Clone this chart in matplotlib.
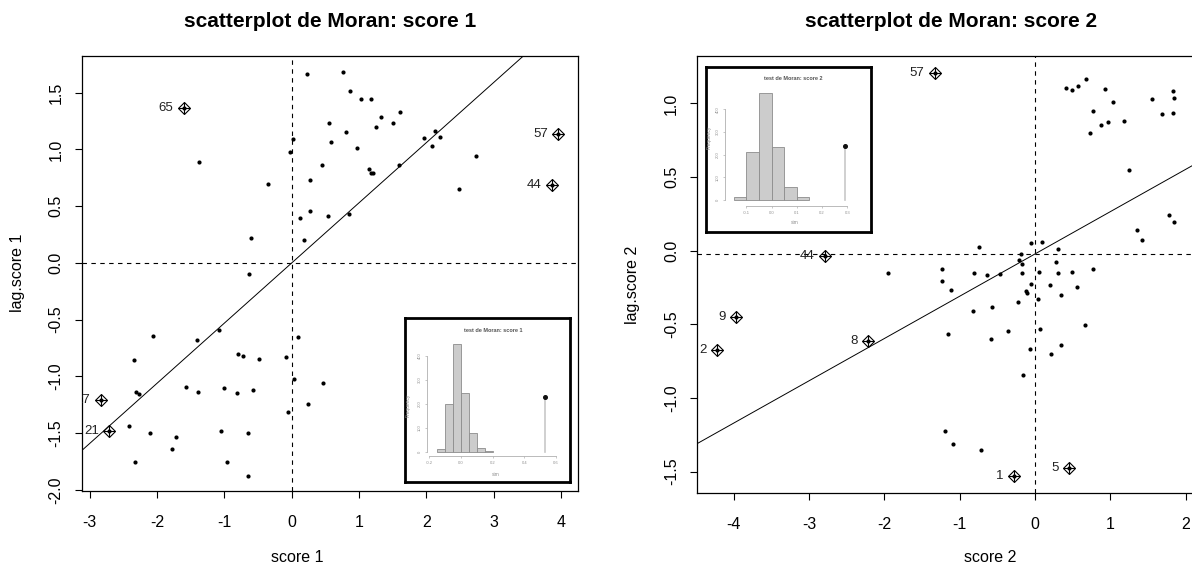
import numpy as np
import matplotlib
matplotlib.use("Agg")
import matplotlib.pyplot as plt

plt.rcParams['font.family'] = ['Liberation Sans', 'DejaVu Sans']
plt.rcParams['axes.unicode_minus'] = False

# ---------------- data: score 1 ----------------
s1_x = [-1.60, -1.38, -0.35, -0.60, -0.63, -0.025, 0.024, 0.232, 0.762, 0.871,
        1.025, 1.183, 1.605, 1.327, 1.50, 1.248, 0.559, 0.812, 0.589, 0.966,
        1.966, 2.125, 2.204, 2.09, 2.734, 0.446, 1.149, 1.174, 1.203, 1.594,
        0.277, 2.486, 3.962, 3.868, 0.119, 0.277, 0.544, 0.851, 0.183, -2.838,
        -2.710, -2.056, -1.412, -1.076, -2.339, -0.793, -0.719, -0.49, -0.085, 0.098,
        0.034, -2.309, -2.264, -1.571, -1.397, -1.006, -0.808, -0.58, -0.055, -2.418,
        -2.101, -1.715, -1.779, -1.055, -0.649, -2.324, -0.957, -0.649, 0.465, 0.247]
s1_lag = [1.368, 0.891, 0.695, 0.224, -0.094, 0.974, 1.089, 1.663, 1.680, 1.513,
          1.448, 1.448, 1.327, 1.289, 1.233, 1.198, 1.233, 1.151, 1.068, 1.012,
          1.098, 1.162, 1.112, 1.030, 0.944, 0.862, 0.824, 0.789, 0.789, 0.862,
          0.733, 0.650, 1.139, 0.686, 0.397, 0.456, 0.41, 0.432, 0.203, -1.212,
          -1.483, -0.641, -0.680, -0.594, -0.853, -0.806, -0.818, -0.844, -0.830, -0.650,
          -1.02, -1.141, -1.159, -1.097, -1.141, -1.106, -1.15, -1.124, -1.318, -1.439,
          -1.497, -1.532, -1.636, -1.485, -1.497, -1.756, -1.756, -1.877, -1.059, -1.244]
s1_inf_idx = [0, 32, 33, 39, 40]
s1_inf_lab = ["65", "57", "44", "27", "21"]
s1_mean_x = 0.0
s1_mean_lag = 0.0
s1_slope = 0.53

# ---------------- data: score 2 ----------------
s2_x = [-2.789, -1.956, -1.332, 0.412, 0.496, 0.566, 0.677, 0.930, 1.04, 0.775,
        0.877, 0.974, 0.735, 1.182, 1.558, 1.828, 1.841, 1.690, 1.828, 1.253,
        1.775, 1.841, 1.35, 1.421, -0.748, -0.049, 0.093, 0.301, -0.190, -0.208,
        -0.173, 0.283, -1.231, -1.239, -1.116, -0.806, -0.637, -0.469, -0.173, 0.049,
        0.301, 0.496, 0.775, -0.049, 0.204, 0.553, -0.12, -0.106, 0.035, 0.345,
        -0.230, -0.819, -0.567, -1.155, -0.580, -0.359, 0.062, 0.668, -0.062, 0.345,
        0.217, -0.159, -1.199, -1.089, -0.721, -0.279, 0.452, -3.975, -4.227, -2.214]
s2_lag = [-0.036, -0.154, 1.208, 1.105, 1.089, 1.118, 1.168, 1.096, 1.01, 0.946,
          0.853, 0.874, 0.797, 0.883, 1.032, 1.082, 1.039, 0.926, 0.933, 0.548,
          0.240, 0.197, 0.141, 0.075, 0.025, 0.052, 0.061, 0.012, -0.025, -0.061,
          -0.088, -0.075, -0.124, -0.204, -0.267, -0.154, -0.167, -0.158, -0.154, -0.145,
          -0.154, -0.147, -0.124, -0.224, -0.231, -0.246, -0.274, -0.289, -0.330, -0.303,
          -0.346, -0.409, -0.382, -0.568, -0.602, -0.545, -0.532, -0.502, -0.667, -0.640,
          -0.704, -0.846, -1.224, -1.310, -1.353, -1.530, -1.478, -0.450, -0.674, -0.611]
s2_inf_idx = [0, 2, 65, 66, 67, 68, 69]
s2_inf_lab = ["44", "57", "1", "5", "9", "2", "8"]
s2_mean_x = 0.0
s2_mean_lag = -0.022
s2_slope = 0.287

# ---------------- inset histograms (randtest) ----------------
h1_edges = [-0.15, -0.10, -0.05, 0.0, 0.05, 0.10, 0.15, 0.20]
h1_counts = [11, 200, 450, 243, 77, 17, 2]
h1_obs = 0.53
h1_obs_h = 227
h2_edges = [-0.15, -0.10, -0.05, 0.0, 0.05, 0.10, 0.15]
h2_counts = [12, 213, 473, 233, 59, 12]
h2_obs = 0.29
h2_obs_h = 237

W, H = 1192, 569
fig = plt.figure(figsize=(W / 100, H / 100), dpi=100)


def box(x0, y0, x1, y1):
    return [x0 / W, 1 - y1 / H, (x1 - x0) / W, (y1 - y0) / H]


def moran_panel(ax, x, lag, inf_idx, inf_lab, mx, my, slope, xlim, ylim,
                xticks, yticks, title, xlab, ylab, xlab_pos, ylab_pos):
    x = np.asarray(x)
    lag = np.asarray(lag)
    ax.set_xlim(*xlim)
    ax.set_ylim(*ylim)
    ax.axhline(my, color='black', lw=0.8, ls=(0, (4, 4)), zorder=1)
    ax.axvline(mx, color='black', lw=0.8, ls=(0, (4, 4)), zorder=1)
    ax.axline((mx, my), slope=slope, color='black', lw=0.7, zorder=1)
    ax.scatter(x, lag, s=9, color='black', zorder=3, linewidths=0)
    ix = np.asarray(inf_idx)
    ax.plot(x[ix], lag[ix], ls='none', marker='D', ms=6.2, mfc='none',
            mec='black', mew=0.8, zorder=4)
    ax.plot(x[ix], lag[ix], ls='none', marker='+', ms=8.6, mec='black',
            mew=0.8, zorder=4)
    for i, lab in zip(inf_idx, inf_lab):
        ax.annotate(lab, (x[i], lag[i]), xytext=(-7.5, 0), textcoords='offset points',
                    ha='right', va='center', fontsize=9.5, color='#222222',
                    annotation_clip=True, clip_on=True)
    ax.set_xticks(xticks)
    ax.set_xticklabels([f"{t:g}" for t in xticks])
    ax.set_yticks(yticks)
    ax.set_yticklabels([f"{t:.1f}" for t in yticks])
    ax.tick_params(axis='both', direction='out', length=5.2, width=0.8,
                   labelsize=11.5, colors='black')
    ax.tick_params(axis='x', pad=12)
    ax.tick_params(axis='y', pad=8, labelrotation=90)
    for lbl in ax.get_yticklabels():
        lbl.set_va('center')
    for sp in ax.spines.values():
        sp.set_linewidth(0.9)
    ax.set_title(title, fontsize=15, fontweight='bold', pad=21)
    ax.set_xlabel(xlab, fontsize=11.5, va='center')
    ax.xaxis.set_label_coords(xlab_pos[0] / W, 1 - xlab_pos[1] / H, transform=fig.transFigure)
    ax.set_ylabel(ylab, fontsize=11.5, va='center')
    ax.yaxis.set_label_coords(ylab_pos[0] / W, 1 - ylab_pos[1] / H, transform=fig.transFigure)


def inset_hist(frame_px, inner_px, edges, counts, obs, obs_h, xlim, ylim,
               xticks, xbounds, title, title_px, xlab_px, ylab_px):
    fr = fig.add_axes(box(*frame_px), zorder=5)
    fr.set_xticks([])
    fr.set_yticks([])
    fr.set_facecolor('white')
    for sp in fr.spines.values():
        sp.set_linewidth(2.0)
        sp.set_color('black')
    ax = fig.add_axes(box(*inner_px), zorder=6)
    ax.patch.set_alpha(0)
    edges = np.asarray(edges)
    ax.bar(edges[:-1], counts, width=np.diff(edges), align='edge',
           color='#cccccc', edgecolor='#8c8c8c', linewidth=0.6)
    ax.plot([obs, obs], [0, obs_h], color='#c8c8c8', lw=1.2)
    ax.plot([obs], [obs_h], 'o', color='#111111', ms=2.6)
    ax.set_xlim(*xlim)
    ax.set_ylim(*ylim)
    for s in ['top', 'right']:
        ax.spines[s].set_visible(False)
    ax.spines['left'].set_bounds(0, 400)
    ax.spines['bottom'].set_bounds(*xbounds)
    for s in ['left', 'bottom']:
        ax.spines[s].set_color('#b0b0b0')
        ax.spines[s].set_linewidth(0.6)
    ax.set_xticks(xticks)
    ax.set_xticklabels([f"{t:.1f}" for t in xticks])
    ax.set_yticks([0, 100, 200, 300, 400])
    ax.tick_params(axis='both', direction='out', length=1.6, width=0.5,
                   colors='#b0b0b0', labelsize=3, labelcolor='#909090', pad=2)
    ax.tick_params(axis='y', labelrotation=90)
    for lbl in ax.get_yticklabels():
        lbl.set_va('center')
    fig.text(title_px[0] / W, 1 - title_px[1] / H, title, fontsize=4,
             fontweight='bold', color='#555555', ha='center', va='center', zorder=7)
    fig.text(xlab_px[0] / W, 1 - xlab_px[1] / H, 'sim', fontsize=3.5,
             color='#909090', ha='center', va='center', zorder=7)
    fig.text(ylab_px[0] / W, 1 - ylab_px[1] / H, 'Frequency', fontsize=3.5,
             color='#909090', ha='center', va='center', rotation=90, zorder=7)


axL = fig.add_axes(box(82, 56, 578, 491))
moran_panel(axL, s1_x, s1_lag, s1_inf_idx, s1_inf_lab, s1_mean_x, s1_mean_lag, s1_slope,
            (-3.116, 4.254), (-2.01, 1.824), [-3, -2, -1, 0, 1, 2, 3, 4],
            [-2.0, -1.5, -1.0, -0.5, 0.0, 0.5, 1.0, 1.5],
            'scatterplot de Moran: score 1', 'score 1', 'lag.score 1',
            (297, 557), (18, 273))

axR = fig.add_axes(box(697.3, 55.7, 1204.4, 492.7))
moran_panel(axR, s2_x, s2_lag, s2_inf_idx, s2_inf_lab, s2_mean_x, s2_mean_lag, s2_slope,
            (-4.485, 2.25), (-1.643, 1.324), [-4, -3, -2, -1, 0, 1, 2],
            [-1.5, -1.0, -0.5, 0.0, 0.5, 1.0],
            'scatterplot de Moran: score 2', 'score 2', 'lag.score 2',
            (990, 557), (633, 285))

inset_hist((405, 318, 570, 482), (426.7, 338.9, 558.5, 455.7), h1_edges, h1_counts,
           h1_obs, h1_obs_h, (-0.217, 0.617), (-16.7, 470),
           [-0.2, 0.0, 0.2, 0.4, 0.6], (-0.2, 0.6), 'test de Moran: score 1',
           (493, 330), (495.7, 474), (408, 405))
inset_hist((706, 67, 871, 232), (725, 82, 854.9, 205.7), h2_edges, h2_counts,
           h2_obs, h2_obs_h, (-0.185, 0.33), (-25, 520),
           [-0.1, 0.0, 0.1, 0.2, 0.3], (-0.1, 0.3), 'test de Moran: score 2',
           (793, 79), (795, 223), (709, 137))

fig.savefig('out.png', dpi=100)
